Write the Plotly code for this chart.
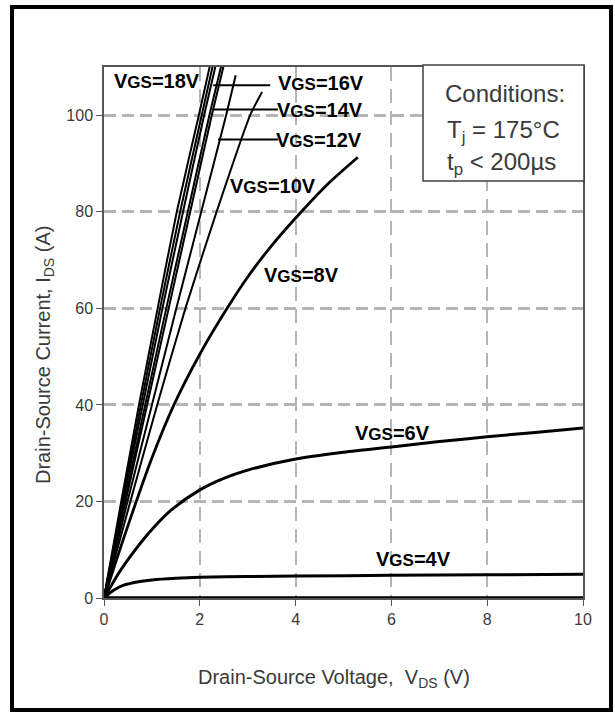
import plotly.graph_objects as go

# ---- output characteristics at Tj = 175 °C (VDS in V, IDS in A) ----
steep_vgs = [20, 19, 18, 16, 14, 12, 10]
steep_vds = [
    [0, 0.36, 0.73, 1.12, 1.52, 1.98, 2.25],
    [0, 0.38, 0.77, 1.17, 1.59, 2.04, 2.31],
    [0, 0.40, 0.81, 1.22, 1.65, 2.09, 2.37],
    [0, 0.43, 0.86, 1.30, 1.75, 2.20, 2.49],
    [0, 0.45, 0.90, 1.35, 1.80, 2.25, 2.54],
    [0, 0.49, 1.00, 1.51, 2.03, 2.55, 2.75],
    [0, 0.55, 1.11, 1.70, 2.35, 3.05, 3.30],
]
steep_ids = [
    [0, 20, 40, 60, 80, 100, 112],
    [0, 20, 40, 60, 80, 100, 112],
    [0, 20, 40, 60, 80, 100, 112],
    [0, 20, 40, 60, 80, 100, 112],
    [0, 20, 40, 60, 80, 100, 112],
    [0, 20, 40, 60, 80, 100, 108.3],
    [0, 20, 40, 60, 80, 100, 104.8],
]

vds_8v = [0, 0.5, 1.0, 1.46, 2.0, 2.57, 3.0, 3.5, 4.12, 4.7, 5.3]
ids_8v = [0, 15, 29, 40, 50.5, 60, 66.5, 73, 80, 86, 91.3]

vds_6v = [0, 0.35, 0.7, 1.0, 1.4, 2.0, 2.5, 3, 4, 5, 6, 7, 8, 9, 10]
ids_6v = [0, 5.8, 10.6, 14.2, 18.2, 22.4, 24.8, 26.5, 28.8, 30.2, 31.3, 32.4, 33.4, 34.3, 35.2]

vds_4v = [0, 0.2, 0.4, 0.75, 1, 1.5, 2, 3, 4, 6, 8, 10]
ids_4v = [0, 1.6, 2.6, 3.4, 3.75, 4.1, 4.3, 4.45, 4.55, 4.7, 4.8, 4.9]

vds_off = [0, 10]
ids_off = [0, 0]

x_ticks = [0, 2, 4, 6, 8, 10]
y_ticks = [0, 20, 40, 60, 80, 100]

SANS = "Liberation Sans, Arial, sans-serif"
TEXT = "#3a3a3a"

fig = go.Figure()

for vgs, xs, ys in zip(steep_vgs, steep_vds, steep_ids):
    fig.add_trace(go.Scatter(x=xs, y=ys, mode="lines", name=f"VGS={vgs}V",
                             line=dict(color="black", width=2, shape="spline", smoothing=0.6)))

fig.add_trace(go.Scatter(x=vds_8v, y=ids_8v, mode="lines", name="VGS=8V",
                         line=dict(color="black", width=2.8, shape="spline", smoothing=0.8)))
fig.add_trace(go.Scatter(x=vds_6v, y=ids_6v, mode="lines", name="VGS=6V",
                         line=dict(color="black", width=3, shape="spline", smoothing=0.8)))
fig.add_trace(go.Scatter(x=vds_4v, y=ids_4v, mode="lines", name="VGS=4V",
                         line=dict(color="black", width=3, shape="spline", smoothing=0.8)))
fig.add_trace(go.Scatter(x=vds_off, y=ids_off, mode="lines", name="off",
                         line=dict(color="black", width=3.5), cliponaxis=False))


def vgs_label(v):
    return ("<b>V<span style='font-size:17px'>GS</span>=" + v + "</b>")


# label text positions in data units (VDS, IDS)
labels = [
    ("18V", 1.11, 107.2),
    ("16V", 4.53, 106.7),
    ("14V", 4.50, 101.1),
    ("12V", 4.48, 94.9),
    ("10V", 3.52, 85.4),
    ("8V", 4.13, 66.9),
    ("6V", 6.03, 34.2),
    ("4V", 6.47, 8.1),
]
for txt, lx, ly in labels:
    fig.add_annotation(x=lx, y=ly, xref="x", yref="y", text=vgs_label(txt),
                       showarrow=False, xanchor="center", yanchor="middle",
                       font=dict(family=SANS, size=20, color="black"))

# leader lines from the labels to their curves
leaders = [(2.28, 3.47, 106.2), (2.27, 3.63, 101.2), (2.38, 3.63, 95.0)]
for x0, x1, yy in leaders:
    fig.add_shape(type="line", xref="x", yref="y", x0=x0, x1=x1, y0=yy, y1=yy,
                  line=dict(color="black", width=2))

# conditions box (pixel geometry converted to paper units of the plot area)
L, R, T, B = 104, 583, 67, 598
W, H = R - L, B - T


def px(xp):
    return (xp - L) / W


def py(yp):
    return (B - yp) / H


fig.add_shape(type="rect", xref="paper", yref="paper",
              x0=px(423), x1=px(584), y0=py(181), y1=py(65),
              line=dict(color="#404040", width=1.5), fillcolor="white", layer="above")
fig.add_annotation(xref="paper", yref="paper", x=px(505), y=py(94),
                   text="Conditions:", showarrow=False, xanchor="center", yanchor="middle",
                   font=dict(family=SANS, size=24, color=TEXT))
fig.add_annotation(xref="paper", yref="paper", x=px(445), y=py(132),
                   text="T<sub>j</sub> = 175°C", showarrow=False, xanchor="left", yanchor="middle",
                   font=dict(family=SANS, size=24, color=TEXT))
fig.add_annotation(xref="paper", yref="paper", x=px(445), y=py(163),
                   text="t<sub>p</sub> < 200µs", showarrow=False, xanchor="left", yanchor="middle",
                   font=dict(family=SANS, size=24, color=TEXT))

# axis titles
fig.add_annotation(xref="paper", yref="paper", x=px(334), y=py(678),
                   text="Drain-Source Voltage,  V<sub>DS</sub> (V)", showarrow=False,
                   xanchor="center", yanchor="middle",
                   font=dict(family=SANS, size=20, color=TEXT))
fig.add_annotation(xref="paper", yref="paper", x=px(44), y=py(355),
                   text="Drain-Source Current, I<sub>DS</sub> (A)", showarrow=False,
                   textangle=-90, xanchor="center", yanchor="middle",
                   font=dict(family=SANS, size=20, color=TEXT))

# outer frame around the whole figure
fig.add_shape(type="rect", xref="paper", yref="paper",
              x0=px(12), x1=px(611), y0=py(710), y1=py(7),
              line=dict(color="black", width=4), fillcolor="rgba(0,0,0,0)", layer="above")

fig.update_layout(
    width=615, height=715,
    margin=dict(l=L, r=615 - R, t=T, b=715 - B),
    paper_bgcolor="white", plot_bgcolor="white",
    showlegend=False,
    font=dict(family=SANS, color=TEXT),
)
fig.update_xaxes(range=[0, 10], tickvals=x_ticks, ticks="outside", ticklen=6,
                 tickcolor="#555", tickwidth=1.2,
                 showline=True, mirror=True, linecolor="#555", linewidth=1.5,
                 showgrid=True, gridcolor="#b5b5b5", gridwidth=2, griddash="14px,8px",
                 zeroline=False, tickfont=dict(family=SANS, size=16, color=TEXT))
fig.update_yaxes(range=[0, 110], tickvals=y_ticks, ticks="outside", ticklen=6,
                 tickcolor="#555", tickwidth=1.2,
                 showline=True, mirror=True, linecolor="#555", linewidth=1.5,
                 showgrid=True, gridcolor="#b5b5b5", gridwidth=3, griddash="12px,6px",
                 zeroline=False, tickfont=dict(family=SANS, size=16, color=TEXT))

fig.write_html("out.html")
